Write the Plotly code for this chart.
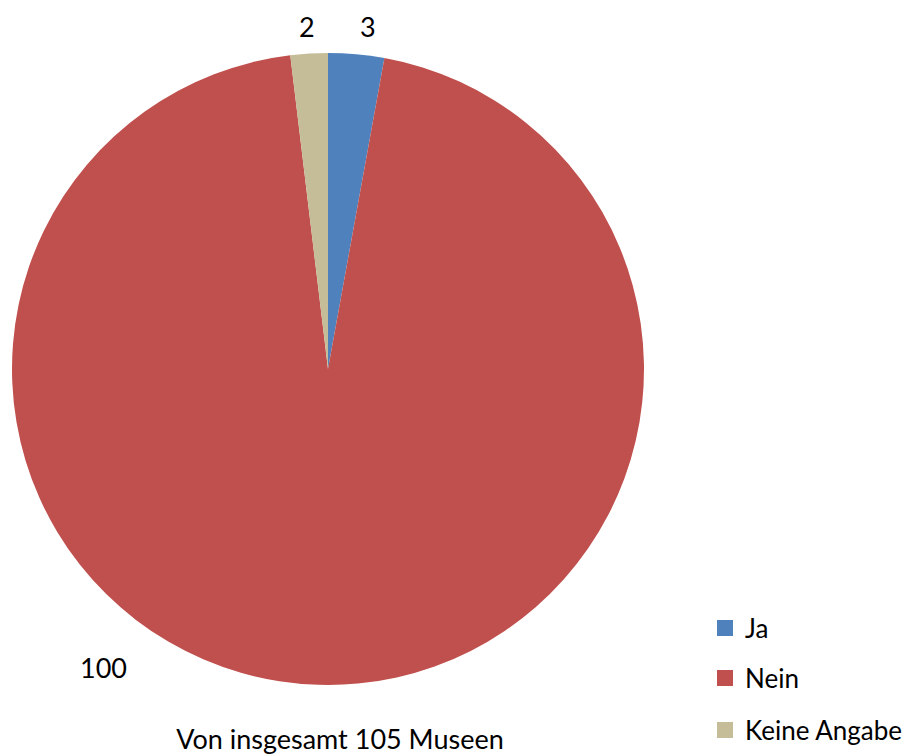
import plotly.graph_objects as go

# Survey answers
categories = ["Ja", "Nein", "Keine Angabe"]
counts = [3, 100, 2]
colors = ["#4F81BD", "#C0504D", "#C4BD97"]
total_label = "Von insgesamt 105 Museen"

W, H = 916, 756
FONT = "Lato, Open Sans, sans-serif"

def px(x, y):
    return x / W, 1 - y / H

fig = go.Figure()

# Pie: centre (328, 369), radius 316 px
x0, y1 = px(12, 53)
x1, y0 = px(644, 685)
fig.add_trace(go.Pie(
    labels=categories,
    values=counts,
    sort=False,
    direction="clockwise",
    rotation=0,
    marker=dict(colors=colors, line=dict(width=0)),
    textinfo="none",
    hoverinfo="label+value",
    showlegend=False,
    domain=dict(x=[x0, x1], y=[y0, y1]),
))

# Value labels placed outside the slices
label_pos = [(368, 27), (103, 667), (307, 27)]
for val, (lx, ly) in zip(counts, label_pos):
    ax, ay = px(lx, ly)
    fig.add_annotation(
        x=ax, y=ay, xref="paper", yref="paper",
        text=str(val), showarrow=False,
        xanchor="center", yanchor="middle",
        font=dict(family=FONT, size=27, color="#000000"),
    )

# Legend entries, one legend per category
legend_y = [628, 678, 730]
layout_legends = {}
for i, (cat, col, ly) in enumerate(zip(categories, colors, legend_y)):
    name = "legend" if i == 0 else f"legend{i + 1}"
    fig.add_trace(go.Scatter(
        x=[None], y=[None], mode="markers", name=cat,
        marker=dict(symbol="square", size=16, color=col),
        legend=name, showlegend=True,
    ))
    lxp, lyp = px(705, ly)
    layout_legends[name] = dict(
        x=lxp, y=lyp, xanchor="left", yanchor="middle",
        bgcolor="rgba(0,0,0,0)", borderwidth=0,
        font=dict(family=FONT, size=26, color="#000000"),
    )

tx, ty = px(340, 740)
fig.update_layout(
    width=W, height=H,
    margin=dict(l=0, r=0, t=0, b=0),
    paper_bgcolor="white",
    plot_bgcolor="white",
    xaxis=dict(visible=False),
    yaxis=dict(visible=False),
    title=dict(
        text=total_label, x=tx, y=ty, xanchor="center", yanchor="middle",
        xref="paper", yref="paper",
        font=dict(family=FONT, size=27, color="#000000"),
    ),
    **layout_legends,
)

fig.write_html("out.html")
